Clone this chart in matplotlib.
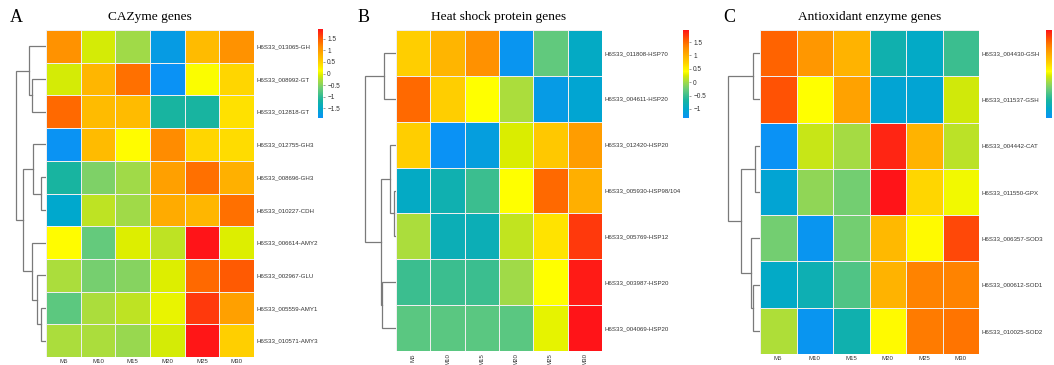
import numpy as np
import matplotlib
matplotlib.use('Agg')
import matplotlib.pyplot as plt
from matplotlib.colors import LinearSegmentedColormap

W, H = 1054, 365

samples = ['M5', 'M10', 'M15', 'M20', 'M25', 'M30']

# ---- CAZyme genes ----
cazyme_genes = ['H6S33_013065-GH', 'H6S33_008992-GT', 'H6S33_012818-GT',
                'H6S33_012755-GH3', 'H6S33_008696-GH3', 'H6S33_010227-CDH',
                'H6S33_006614-AMY2', 'H6S33_002967-GLU', 'H6S33_005559-AMY1',
                'H6S33_010571-AMY3']
cazyme_z = [
    [1.10, -0.10, -0.35, -1.75, 0.70, 1.10],
    [-0.10, 0.75, 1.35, -1.93, 0.10, 0.45],
    [1.40, 0.70, 0.70, -1.15, -1.15, 0.35],
    [-1.90, 0.70, 0.15, 1.15, 0.45, 0.40],
    [-1.15, -0.55, -0.35, 0.95, 1.35, 0.80],
    [-1.55, -0.20, -0.35, 0.85, 0.75, 1.35],
    [0.15, -0.70, -0.05, -0.20, 1.93, -0.05],
    [-0.30, -0.60, -0.50, -0.05, 1.40, 1.50],
    [-0.75, -0.30, -0.20, 0.00, 1.70, 0.95],
    [-0.30, -0.30, -0.40, -0.10, 1.90, 0.50],
]
# merges: (left, right, height); ids >= n refer to earlier merges
cazyme_links = [(4, 5, 5), (8, 9, 5), (7, 11, 9), (3, 10, 13), (1, 2, 14),
                (6, 12, 14), (0, 14, 17), (13, 15, 23), (16, 17, 30)]

# ---- Heat shock protein genes ----
hsp_genes = ['H6S33_011808-HSP70', 'H6S33_004611-HSP20', 'H6S33_012420-HSP20',
             'H6S33_005930-HSP98/104', 'H6S33_005769-HSP12',
             'H6S33_003987-HSP20', 'H6S33_004069-HSP20']
hsp_z = [
    [0.75, 0.95, 1.25, -1.30, -0.30, -0.95],
    [1.50, 0.75, 0.40, 0.05, -1.20, -1.05],
    [0.75, -1.34, -1.15, 0.25, 0.80, 1.15],
    [-0.95, -0.80, -0.50, 0.40, 1.50, 1.00],
    [0.05, -0.85, -0.85, 0.15, 0.60, 1.75],
    [-0.50, -0.50, -0.50, 0.00, 0.40, 1.90],
    [-0.35, -0.35, -0.35, -0.35, 0.30, 1.95],
]
hsp_links = [(3, 4, 2.5), (2, 7, 6), (0, 1, 12), (5, 6, 14), (8, 10, 15),
             (9, 11, 31)]

# ---- Antioxidant enzyme genes ----
antiox_genes = ['H6S33_004430-GSH', 'H6S33_011537-GSH', 'H6S33_004442-CAT',
                'H6S33_011550-GPX', 'H6S33_006357-SOD3', 'H6S33_000612-SOD1',
                'H6S33_010025-SOD2']
antiox_z = [
    [1.45, 1.10, 0.85, -1.00, -1.20, -0.70],
    [1.55, 0.25, 1.00, -1.30, -1.30, 0.05],
    [-1.60, 0.00, -0.15, 1.80, 0.85, -0.05],
    [-1.30, -0.25, -0.40, 1.90, 0.55, 0.20],
    [-0.40, -1.55, -0.40, 0.80, 0.30, 1.60],
    [-1.20, -1.05, -0.60, 0.85, 1.25, 1.25],
    [-0.10, -1.55, -1.00, 0.30, 1.30, 1.35],
]
antiox_links = [(2, 3, 5), (5, 6, 6.6), (0, 1, 7), (4, 8, 9.3), (7, 10, 18.7),
                (9, 11, 32)]

cmap = LinearSegmentedColormap.from_list('heat', [
    (0.00, '#0a92f5'), (0.10, '#00a8cc'), (0.20, '#18b4a0'),
    (0.33, '#6ccc78'), (0.42, '#a8dc40'), (0.48, '#d8ec00'),
    (0.53, '#ffff00'), (0.62, '#ffd400'), (0.70, '#ffb400'),
    (0.80, '#ff8c00'), (0.88, '#ff6000'), (1.00, '#ff1418')])

label_font = 'Liberation Sans'
title_font = 'Liberation Serif'
label_size = 4.4


def rect(x0, y0, x1, y1):
    return [x0 / W, 1 - y1 / H, (x1 - x0) / W, (y1 - y0) / H]


def draw_dendrogram(ax, links, n, span):
    pos = {i: i + 0.5 for i in range(n)}
    hgt = {i: 0.0 for i in range(n)}
    for k, (a, b, h) in enumerate(links):
        ya, yb = pos[a], pos[b]
        ax.plot([hgt[a], h, h, hgt[b]], [ya, ya, yb, yb],
                color='#7a7a7a', lw=0.9, solid_joinstyle='miter')
        pos[n + k] = (ya + yb) / 2
        hgt[n + k] = h
    ax.set_xlim(span, 0)
    ax.set_ylim(n, 0)
    ax.axis('off')


def draw_panel(fig, letter, letter_x, title, genes, z, links,
               heat_box, dendro_left, cbar_box, cbar_ticks, rotate_cols=False):
    z = np.array(z)
    n = len(genes)
    x0, y0, x1, y1 = heat_box

    ax = fig.add_axes(rect(*heat_box))
    mesh = ax.pcolormesh(z, cmap=cmap, vmin=z.min(), vmax=z.max(),
                         edgecolors='#eeeeee', linewidth=0.7)
    ax.set_ylim(n, 0)
    ax.set_xlim(0, len(samples))
    for s in ax.spines.values():
        s.set_visible(False)
    ax.yaxis.tick_right()
    ax.set_yticks(np.arange(n) + 0.5)
    ax.set_yticklabels(genes, fontsize=label_size, family=label_font,
                       color='#333333')
    ax.set_xticks(np.arange(len(samples)) + 0.5)
    ax.set_xticklabels(samples, fontsize=label_size, family=label_font,
                       color='#333333', rotation=90 if rotate_cols else 0)
    ax.tick_params(length=0, pad=1.5)

    dax = fig.add_axes(rect(dendro_left, y0, x0, y1))
    draw_dendrogram(dax, links, n, x0 - dendro_left)

    cax = fig.add_axes(rect(*cbar_box))
    cb = fig.colorbar(mesh, cax=cax, ticks=cbar_ticks)
    cb.outline.set_visible(False)
    if cbar_ticks:
        cb.ax.set_yticklabels([f'{t:g}'.replace('-', '\u2212') for t in cbar_ticks],
                              fontsize=label_size + 0.3, family=label_font,
                              color='#333333')
    cb.ax.tick_params(length=1.5, width=0.4, pad=1.5, color='#555555')

    fig.text((x0 + x1) / 2 / W, 1 - 17 / H, title, family=title_font,
             fontsize=9.6, ha='center', va='center')
    fig.text(letter_x / W, 1 - 17 / H, letter, family=title_font,
             fontsize=13, ha='center', va='center')


fig = plt.figure(figsize=(W / 100, H / 100), dpi=100)

draw_panel(fig, 'A', 16, 'CAZyme genes', cazyme_genes, cazyme_z, cazyme_links,
           (46, 30, 254, 357), 13, (318, 29, 323, 118),
           [-1.5, -1, -0.5, 0, 0.5, 1, 1.5])
draw_panel(fig, 'B', 364, 'Heat shock protein genes', hsp_genes, hsp_z, hsp_links,
           (396, 30, 602, 351), 362, (683, 30, 689, 118),
           [-1, -0.5, 0, 0.5, 1, 1.5], rotate_cols=True)
# the third colour key sits at the right edge, its labels fall outside
draw_panel(fig, 'C', 729, 'Antioxidant enzyme genes', antiox_genes, antiox_z,
           antiox_links, (760, 30, 979, 354), 726, (1046, 30, 1052, 118), [])

fig.savefig('out.png', dpi=100)
